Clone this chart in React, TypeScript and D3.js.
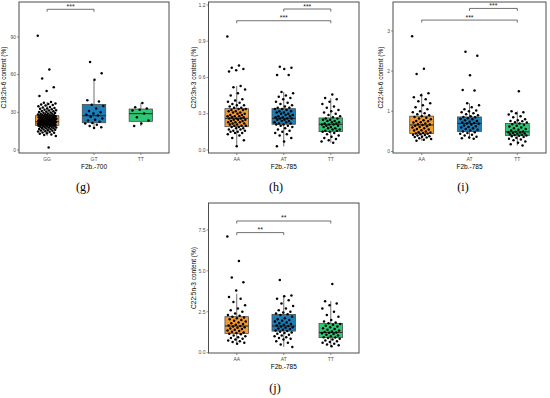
import * as d3 from "d3";

const genoG = ["GG", "GT", "TT"];
const genoA = ["AA", "AT", "TT"];
const FILLS = ["#F39A34", "#1D7DB5", "#2DC874"];

// (g) C18:2n-6, F2b.-700
const c18GG = [91, 64, 57, 50, 47, 43, 38.2, 37.6, 37.1, 36.6, 36.3, 35.8, 35.4, 34.9, 34.2, 33.8, 33.5, 33.1, 32.8, 32.4, 32.1, 31.7, 31.4, 31.1, 30.9, 30.5, 30.2, 29.9, 29.7, 29.4, 29.1, 28.9, 28.8, 28.5, 28.3, 28.1, 27.9, 27.7, 27.6, 27.4, 27.2, 27.0, 26.9, 26.7, 26.5, 26.3, 26.2, 26.0, 25.9, 25.7, 25.6, 25.4, 25.3, 25.1, 25.0, 24.8, 24.7, 24.5, 24.4, 24.3, 24.2, 24.0, 23.9, 23.8, 23.7, 23.5, 23.4, 23.3, 23.2, 23.0, 22.9, 22.8, 22.7, 22.6, 22.5, 22.4, 22.3, 22.2, 22.1, 22.0, 21.9, 21.8, 21.7, 21.6, 21.5, 21.4, 21.3, 21.1, 21.0, 20.9, 20.8, 20.7, 20.6, 20.5, 20.4, 20.3, 20.2, 20.0, 19.9, 19.7, 19.6, 19.4, 19.3, 19.1, 19.0, 18.8, 18.7, 18.5, 18.3, 18.1, 17.9, 17.7, 17.5, 17.3, 17.1, 16.8, 16.6, 16.3, 16.1, 15.8, 15.6, 15.3, 15.0, 14.7, 14.4, 14.0, 13.7, 13.3, 12.9, 12.4, 12.0, 11.2, 2];
const c18GT = [70, 61, 56, 39.5, 38.5, 36, 35, 33, 31, 30, 29, 28, 27.5, 26.5, 25, 24, 23.5, 22.5, 21.5, 21, 20, 19, 18, 17.5];
const c18TT = [37.5, 34, 33, 32, 31.5, 29, 26, 23.5, 21, 19];
const c18Box = [[11.2, 19.6, 22.5, 27.3, 38.2], [17.5, 21.7, 27.3, 36.3, 56], [19, 22.8, 28.9, 32.6, 37.5]];
const c18Ticks = [0, 30, 60, 90];
const c18Sig = [{ a: "GG", b: "GT", y: 112, label: "***" }];

// (h) C20:3n-3, F2b.-785
const c20AA = [0.94, 0.70, 0.68, 0.67, 0.66, 0.65, 0.53, 0.52, 0.50, 0.47, 0.45, 0.42, 0.41, 0.40, 0.39, 0.38, 0.37, 0.37, 0.36, 0.35, 0.35, 0.34, 0.34, 0.33, 0.33, 0.32, 0.32, 0.31, 0.31, 0.30, 0.30, 0.29, 0.29, 0.28, 0.28, 0.28, 0.27, 0.27, 0.26, 0.26, 0.26, 0.25, 0.25, 0.25, 0.24, 0.24, 0.23, 0.23, 0.23, 0.22, 0.22, 0.21, 0.21, 0.20, 0.20, 0.20, 0.19, 0.19, 0.18, 0.18, 0.17, 0.17, 0.16, 0.16, 0.15, 0.15, 0.14, 0.14, 0.13, 0.12, 0.10, 0.08, 0.03];
const c20AT = [0.69, 0.68, 0.67, 0.62, 0.62, 0.48, 0.47, 0.45, 0.44, 0.43, 0.42, 0.40, 0.39, 0.38, 0.37, 0.36, 0.35, 0.35, 0.34, 0.34, 0.33, 0.32, 0.32, 0.31, 0.31, 0.30, 0.30, 0.29, 0.29, 0.28, 0.28, 0.27, 0.27, 0.26, 0.26, 0.26, 0.25, 0.25, 0.24, 0.24, 0.23, 0.23, 0.22, 0.22, 0.21, 0.21, 0.20, 0.20, 0.19, 0.18, 0.17, 0.16, 0.15, 0.14, 0.13, 0.12, 0.10, 0.07, 0.03];
const c20TT = [0.46, 0.43, 0.42, 0.40, 0.38, 0.36, 0.35, 0.33, 0.32, 0.31, 0.30, 0.29, 0.28, 0.27, 0.26, 0.26, 0.25, 0.25, 0.24, 0.24, 0.23, 0.23, 0.22, 0.22, 0.21, 0.21, 0.21, 0.20, 0.20, 0.19, 0.19, 0.18, 0.18, 0.17, 0.17, 0.16, 0.16, 0.15, 0.15, 0.14, 0.13, 0.12, 0.11, 0.10, 0.09, 0.08, 0.07, 0.06];
const c20Box = [[0.03, 0.193, 0.262, 0.342, 0.53], [0.03, 0.213, 0.262, 0.342, 0.48], [0.06, 0.152, 0.213, 0.265, 0.43]];
const c20Ticks = [0, 0.3, 0.6, 0.9, 1.2];
const c20Sig = [{ a: "AA", b: "TT", y: 1.07, label: "***" }, { a: "AT", b: "TT", y: 1.167, label: "***" }];

// (i) C22:4n-6, F2b.-785
const c224AA = [2.87, 2.06, 1.93, 1.45, 1.40, 1.35, 1.30, 1.25, 1.20, 1.15, 1.10, 1.05, 1.00, 0.98, 0.95, 0.93, 0.90, 0.88, 0.86, 0.84, 0.82, 0.80, 0.78, 0.76, 0.75, 0.73, 0.72, 0.70, 0.68, 0.67, 0.66, 0.64, 0.63, 0.61, 0.60, 0.58, 0.56, 0.55, 0.53, 0.52, 0.50, 0.48, 0.47, 0.46, 0.45, 0.44, 0.43, 0.42, 0.41, 0.40, 0.38, 0.37, 0.36, 0.35, 0.33, 0.31, 0.29, 0.27];
const c224AT = [2.48, 2.38, 1.90, 1.53, 1.52, 1.20, 1.15, 1.10, 1.05, 1.02, 1.00, 0.98, 0.95, 0.93, 0.90, 0.88, 0.86, 0.85, 0.83, 0.81, 0.80, 0.78, 0.76, 0.74, 0.72, 0.71, 0.70, 0.69, 0.67, 0.65, 0.63, 0.61, 0.60, 0.58, 0.56, 0.54, 0.52, 0.50, 0.48, 0.46, 0.44, 0.42, 0.40, 0.37, 0.35, 0.33, 0.32];
const c224TT = [1.50, 1.00, 0.98, 0.95, 0.92, 0.88, 0.85, 0.80, 0.78, 0.76, 0.75, 0.73, 0.72, 0.70, 0.68, 0.66, 0.64, 0.62, 0.60, 0.58, 0.56, 0.54, 0.52, 0.50, 0.49, 0.48, 0.47, 0.46, 0.45, 0.44, 0.43, 0.42, 0.41, 0.40, 0.39, 0.38, 0.36, 0.34, 0.32, 0.30, 0.28, 0.25, 0.22, 0.18, 0.15];
const c224Box = [[0.27, 0.45, 0.66, 0.88, 1.45], [0.32, 0.50, 0.70, 0.86, 1.20], [0.15, 0.40, 0.49, 0.70, 1.00]];
const c224Ticks = [0, 1, 2, 3];
const c224Sig = [{ a: "AA", b: "TT", y: 3.27, label: "***" }, { a: "AT", b: "TT", y: 3.56, label: "***" }];

// (j) C22:5n-3, F2b.-785
const c225AA = [7.10, 5.60, 4.60, 4.30, 3.80, 3.40, 3.30, 3.10, 2.90, 2.70, 2.60, 2.50, 2.40, 2.30, 2.25, 2.20, 2.15, 2.10, 2.05, 2.00, 1.95, 1.90, 1.85, 1.80, 1.75, 1.70, 1.66, 1.63, 1.60, 1.56, 1.52, 1.48, 1.44, 1.40, 1.36, 1.32, 1.28, 1.24, 1.20, 1.16, 1.12, 1.05, 1.00, 0.95, 0.90, 0.85, 0.80, 0.75, 0.70, 0.65, 0.60, 0.55];
const c225AT = [4.45, 3.50, 3.45, 3.30, 3.20, 3.00, 2.85, 2.70, 2.60, 2.50, 2.45, 2.40, 2.35, 2.30, 2.20, 2.10, 2.05, 2.00, 1.95, 1.90, 1.85, 1.80, 1.75, 1.70, 1.66, 1.63, 1.60, 1.56, 1.52, 1.48, 1.44, 1.40, 1.36, 1.32, 1.28, 1.24, 1.20, 1.15, 1.10, 1.05, 1.00, 0.95, 0.90, 0.85, 0.80, 0.70, 0.60, 0.50, 0.35];
const c225TT = [4.20, 3.15, 3.00, 2.90, 2.70, 2.50, 2.30, 2.20, 2.00, 1.90, 1.85, 1.80, 1.75, 1.70, 1.65, 1.60, 1.55, 1.50, 1.45, 1.40, 1.35, 1.30, 1.26, 1.24, 1.22, 1.18, 1.14, 1.10, 1.05, 1.00, 0.95, 0.92, 0.90, 0.85, 0.80, 0.75, 0.70, 0.65, 0.60, 0.55, 0.50, 0.45, 0.40];
const c225Box = [[0.55, 1.18, 1.63, 2.20, 3.60], [0.35, 1.32, 1.63, 2.34, 3.50], [0.40, 0.92, 1.24, 1.79, 3.15]];
const c225Ticks = [0, 2.5, 5, 7.5];
const c225Sig = [{ a: "AA", b: "AT", y: 7.34, label: "**" }, { a: "AA", b: "TT", y: 8.05, label: "**" }];

const FONT = "Liberation Sans, Arial, sans-serif";
const GREY = "#4D4D4D";

const panels = [
  { tag: "(g)", cats: genoG, pts: [c18GG, c18GT, c18TT], box: c18Box, ticks: c18Ticks, sig: c18Sig, fmt: d3.format("d"),
    yLim: [-2.4, 117.8], ytitle: "C18:2n-6 content (%)", xtitle: "F2b.-700", f: { x0: 19, x1: 169, y0: 2, y1: 153 }, tx: 13, tagX: 83, tagY: 191 },
  { tag: "(h)", cats: genoA, pts: [c20AA, c20AT, c20TT], box: c20Box, ticks: c20Ticks, sig: c20Sig, fmt: d3.format(".1f"),
    yLim: [-0.025, 1.225], ytitle: "C20:3n-3 content (%)", xtitle: "F2b.-785", f: { x0: 208.5, x1: 359, y0: 2, y1: 153 }, tx: 13, tagX: 276, tagY: 191 },
  { tag: "(i)", cats: genoA, pts: [c224AA, c224AT, c224TT], box: c224Box, ticks: c224Ticks, sig: c224Sig, fmt: d3.format("d"),
    yLim: [-0.037, 3.72], ytitle: "C22:4n-6 content (%)", xtitle: "F2b.-785", f: { x0: 393, x1: 546, y0: 2, y1: 153 }, tx: 10, tagX: 463, tagY: 191 },
  { tag: "(j)", cats: genoA, pts: [c225AA, c225AT, c225TT], box: c225Box, ticks: c225Ticks, sig: c225Sig, fmt: d3.format(".1f"),
    yLim: [-0.02, 9.15], ytitle: "C22:5n-3 content (%)", xtitle: "F2b.-785", f: { x0: 208.5, x1: 359, y0: 203, y1: 353 }, tx: 13, tagX: 275, tagY: 392 },
];

function Panel({ p }: { p: any }) {
  const { f } = p;
  const x = d3.scalePoint<string>().domain(p.cats).range([f.x0, f.x1]).padding(0.6);
  const y = d3.scaleLinear().domain(p.yLim).range([f.y1, f.y0]);
  const bw = x.step() * 0.5;
  const jit = x.step() * 0.2;
  const midY = (f.y0 + f.y1) / 2;
  return (
    <g>
      {p.cats.map((c: string, i: number) => {
        const [lo, q1, med, q3, hi] = p.box[i];
        const cx = x(c)!;
        return (
          <g key={c}>
            <line x1={cx} x2={cx} y1={y(hi)} y2={y(q3)} stroke={GREY} strokeWidth={0.8} />
            <line x1={cx} x2={cx} y1={y(q1)} y2={y(lo)} stroke={GREY} strokeWidth={0.8} />
            <rect x={cx - bw / 2} width={bw} y={y(q3)} height={y(q1) - y(q3)} fill={FILLS[i]} stroke={GREY} strokeWidth={0.8} />
            <line x1={cx - bw / 2} x2={cx + bw / 2} y1={y(med)} y2={y(med)} stroke="#222" strokeWidth={1} />
          </g>
        );
      })}
      {p.cats.map((c: string, i: number) =>
        p.pts[i].map((v: number, k: number) => (
          <circle key={c + k} cx={x(c)! + (((k * 0.618034 + 0.29 * i) % 1) - 0.5) * 2 * jit} cy={y(v)} r={1.25} fill="#000" />
        ))
      )}
      <rect x={f.x0} y={f.y0} width={f.x1 - f.x0} height={f.y1 - f.y0} fill="none" stroke={GREY} strokeWidth={1} />
      {p.ticks.map((t: number) => (
        <g key={t}>
          <line x1={f.x0 - 2} x2={f.x0} y1={y(t)} y2={y(t)} stroke={GREY} strokeWidth={0.6} />
          <text x={f.x0 - 3} y={y(t)} dy="0.35em" textAnchor="end" fontSize={5} fill={GREY} fontFamily={FONT}>{p.fmt(t)}</text>
        </g>
      ))}
      {p.cats.map((c: string) => (
        <g key={c}>
          <line x1={x(c)} x2={x(c)} y1={f.y1} y2={f.y1 + 2} stroke={GREY} strokeWidth={0.6} />
          <text x={x(c)} y={f.y1 + 7.5} textAnchor="middle" fontSize={5} fill={GREY} fontFamily={FONT}>{c}</text>
        </g>
      ))}
      <text x={(f.x0 + f.x1) / 2} y={f.y1 + 15.5} textAnchor="middle" fontSize={6.5} fill="#000" fontFamily={FONT}>{p.xtitle}</text>
      <text transform={`translate(${f.x0 - p.tx},${midY}) rotate(-90)`} textAnchor="middle" fontSize={6.5} fill="#000" fontFamily={FONT}>{p.ytitle}</text>
      {p.sig.map((s: any, i: number) => {
        const xa = x(s.a)!, xb = x(s.b)!, yy = y(s.y);
        return (
          <g key={i}>
            <path d={`M${xa},${yy + 2.5}V${yy}H${xb}V${yy + 2.5}`} fill="none" stroke={GREY} strokeWidth={0.8} />
            <text x={(xa + xb) / 2} y={yy - 0.5} textAnchor="middle" fontSize={7} fill="#222" fontFamily={FONT}>{s.label}</text>
          </g>
        );
      })}
      <text x={p.tagX} y={p.tagY} textAnchor="middle" fontSize={12} fill="#000" fontFamily="Liberation Serif, Times New Roman, serif">{p.tag}</text>
    </g>
  );
}

export default function App() {
  return (
    <svg width={550} height={398} style={{ position: "absolute", left: 0, top: 0, background: "#fff" }}>
      {panels.map((p) => (
        <Panel key={p.tag} p={p} />
      ))}
    </svg>
  );
}
